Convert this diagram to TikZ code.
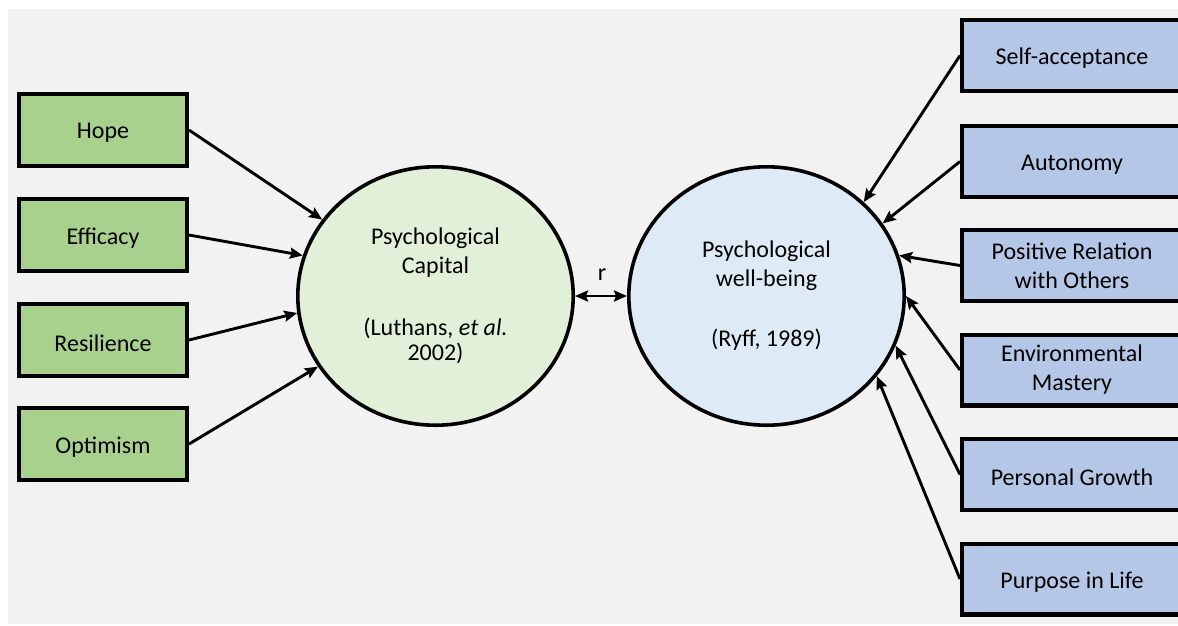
\documentclass[tikz,border=0pt]{standalone}
\usepackage{fontspec}
\setmainfont{Carlito}
\usetikzlibrary{arrows.meta,shapes.geometric}
\definecolor{bggray}{HTML}{F2F2F2}
\definecolor{lgreen}{HTML}{A9D18E}
\definecolor{pgreen}{HTML}{E2F0D9}
\definecolor{lblue}{HTML}{B4C7E7}
\definecolor{pblue}{HTML}{DEEBF7}
\newcommand{\lowtext}[1]{\raisebox{-3pt}[\height][\depth]{#1}}
\begin{document}
\begin{tikzpicture}[x=1pt,y=-1pt,
  every node/.style={font=\fontsize{24}{29}\selectfont, text=black},
  gbox/.style={draw, line width=4.2pt, fill=lgreen, minimum width=167.8pt, minimum height=71.8pt, inner sep=0pt, align=center},
  bbox/.style={draw, line width=4.2pt, fill=lblue, minimum width=219.8pt, minimum height=70.8pt, inner sep=0pt, align=center},
  construct/.style={ellipse, draw, line width=3.6pt, inner sep=0pt, minimum width=275.4pt, minimum height=258.4pt, align=center},
  arr/.style={-{Stealth[length=13pt,width=11pt,inset=2pt]}, line width=2.9pt},
  dblarr/.style={{Stealth[length=13pt,width=11pt,inset=2pt]}-{Stealth[length=13pt,width=11pt,inset=2pt]}, line width=2.9pt}]
\clip (0,0) rectangle (1178,625);
\useasboundingbox (0,0) rectangle (1178,625);
\fill[white] (0,0) rectangle (1178,625);
\fill[bggray] (8,9) rectangle (1178,624);

% left boxes
\node[gbox] (hope) at (103,130) {\lowtext{Hope}};
\node[gbox] (eff) at (103,235) {\lowtext{Efficacy}};
\node[gbox] (res) at (103,340) {\lowtext{Resilience}};
\node[gbox] (opt) at (103,444) {\lowtext{Optimism}};

% constructs
\node[construct, fill=pgreen] (pc) at (435.5,296) {Psychological\\Capital\\[33pt](Luthans, \textit{et al.}\\[-4pt]2002)};
\node[construct, fill=pblue] (pwb) at (766.5,296) {Psychological\\well-being\\[31pt](Ryff, 1989)};

% right boxes
\node[bbox] (sa) at (1072,55.5) {\lowtext{Self-acceptance}};
\node[bbox] (au) at (1072,161.5) {\lowtext{Autonomy}};
\node[bbox] (pr) at (1072,265.5) {Positive Relation\\with Others};
\node[bbox] (em) at (1072,370) {Environmental\\Mastery};
\node[bbox] (pg) at (1072,474.5) {\lowtext{Personal Growth}};
\node[bbox] (pl) at (1072,579) {\lowtext{Purpose in Life}};

% arrows left
\draw[arr] (hope.east) -- (pc.146);
\draw[arr] (eff.east) -- (pc.163.5);
\draw[arr] (res.east) -- (pc.187);
\draw[arr] (opt.east) -- (pc.211.8);

% correlation
\draw[dblarr] (pc.east) -- (pwb.west);
\node (r) at (602,274.5) {r};

% arrows right
\draw[arr] (sa.west) -- (pwb.44.6);
\draw[arr] (au.west) -- (pwb.32.7);
\draw[arr] (pr.west) -- (pwb.17.3);
\draw[arr] (em.west) -- (pwb.0);
\draw[arr] (pg.west) -- (pwb.-21.7);
\draw[arr] (pl.west) -- (pwb.-36.3);
\end{tikzpicture}
\end{document}
